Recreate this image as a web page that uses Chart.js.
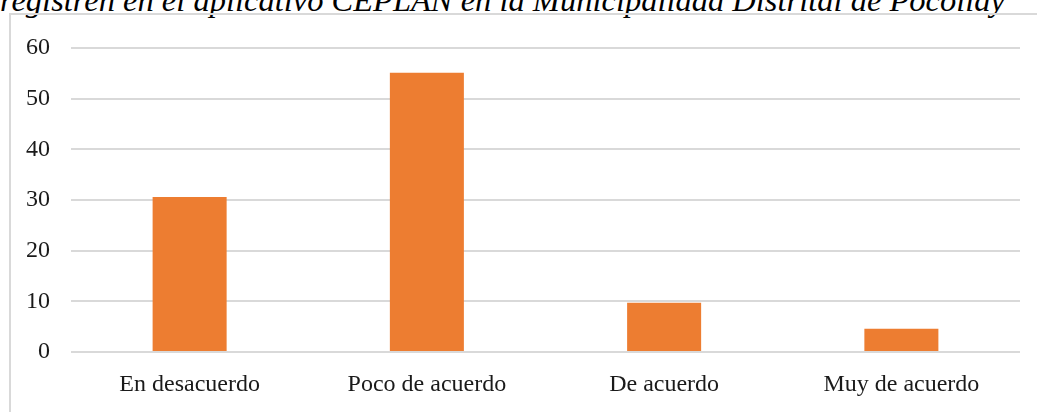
<!DOCTYPE html>
<html>
<head>
<meta charset="utf-8">
<script src="https://cdn.jsdelivr.net/npm/chart.js@4/dist/chart.umd.min.js"></script>
<style>
  html, body { margin:0; padding:0; background:#fff; }
  #wrap { position:relative; width:1037px; height:412px; overflow:hidden; }
  #title { position:absolute; left:0; top:-18px; white-space:nowrap;
    font-family:"Liberation Serif","DejaVu Serif",serif; font-style:italic; font-size:32.5px; color:#000; }
  #frame { position:absolute; left:9px; top:13px; width:1100px; height:500px;
    border-left:2px solid #d9d9d9; border-top:2px solid #d9d9d9; box-sizing:border-box; }
  #c { position:absolute; left:0; top:0; }
</style>
</head>
<body>
<div id="wrap">
  <div id="title">registren en el aplicativo CEPLAN en la Municipalidad Distrital de Pocollay</div>
  <div id="frame"></div>
  <canvas id="c" width="1037" height="412"></canvas>
</div>
<script>
// chart data
const categories = ['En desacuerdo', 'Poco de acuerdo', 'De acuerdo', 'Muy de acuerdo'];
const percentages = [30.6, 55.1, 9.7, 4.6];
const yTicks = [0, 10, 20, 30, 40, 50, 60];

const serif = '"Liberation Serif","DejaVu Serif",serif';

new Chart(document.getElementById('c').getContext('2d'), {
  type: 'bar',
  data: {
    labels: categories,
    datasets: [{ data: percentages, backgroundColor: '#ED7D31', borderWidth: 0,
      categoryPercentage: 1, barPercentage: 0.312 }]
  },
  options: {
    responsive: false, animation: false,
    layout: { padding: { top: 48, right: 17, bottom: 0, left: 0 } },
    plugins: { legend: { display: false }, tooltip: { enabled: false } },
    scales: {
      x: {
        grid: { display: false, drawTicks: false },
        border: { display: false },
        ticks: { color: '#1a1a1a', font: { family: serif, size: 24 }, padding: 18, maxRotation: 0 },
        afterFit: s => { s.height = 60; }
      },
      y: {
        min: 0, max: yTicks[yTicks.length - 1],
        afterBuildTicks: s => { s.ticks = yTicks.map(v => ({ value: v })); },
        grid: { color: '#d9d9d9', lineWidth: 2, drawTicks: false },
        border: { display: false },
        ticks: { color: '#1a1a1a', font: { family: serif, size: 24 }, padding: 21 },
        afterFit: s => { s.width = 71; }
      }
    }
  }
});
</script>
</body>
</html>
